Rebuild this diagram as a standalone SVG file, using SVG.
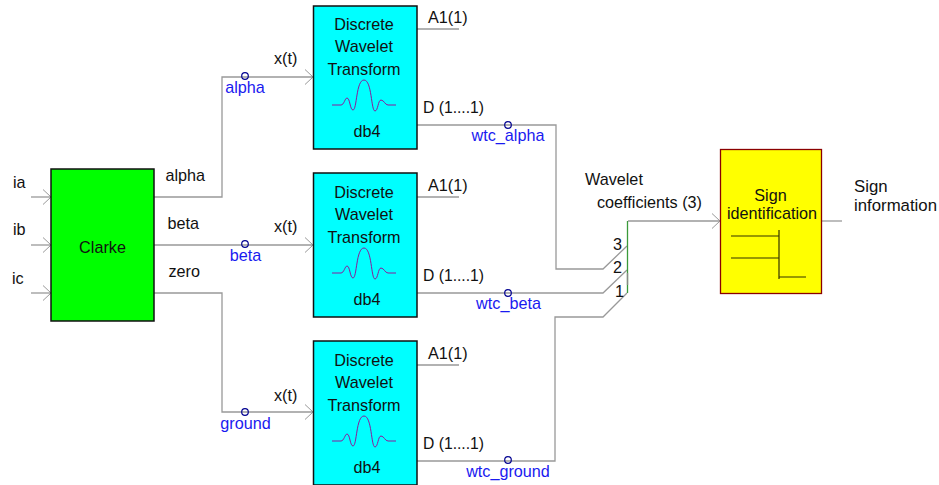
<svg xmlns="http://www.w3.org/2000/svg" width="939" height="485" viewBox="0 0 939 485">
<defs>
<marker id="arrow" markerUnits="userSpaceOnUse" markerWidth="10" markerHeight="16" refX="8.5" refY="8" orient="auto" viewBox="0 0 10 16"><path d="M0.5 0.5 L8.5 8 L0.5 15.5" fill="none" stroke="#999" stroke-width="1"/></marker>
<path id="wavelet" d="M332 105 H341 C344 105 345 98 347 98 C350 98 350 110 353 110 C357 110 356 80 364 80 C372 80 371 111 375 111 C378 111 378 100 381 100 C384 100 385 105 388 105 H396" fill="none" stroke="#8b1a9b" stroke-width="1"/>
</defs>
<style>
text{font-family:"Liberation Sans",Arial,sans-serif;font-size:16.200px;fill:#111}
.b{fill:#1a1af0}
.m{text-anchor:middle}
.d{font-size:15.700px}
.s{font-size:16.800px}
.c{fill:none;stroke:#999;stroke-width:1.300}
.box{stroke:#111;stroke-width:1.500}
.dot{fill:none;stroke:#000090;stroke-width:1.200}
.i{stroke:#333300;stroke-width:1.200;fill:none}
</style>
<rect width="939" height="485" fill="#fff"/>
<g id="connectors">
<path class="c" marker-end="url(#arrow)" d="M31 197 H51"/>
<path class="c" marker-end="url(#arrow)" d="M31 245 H51"/>
<path class="c" marker-end="url(#arrow)" d="M31 293 H51"/>
<path class="c" marker-end="url(#arrow)" d="M154 197 H222 V77 H313"/>
<path class="c" marker-end="url(#arrow)" d="M154 245 H313"/>
<path class="c" marker-end="url(#arrow)" d="M154 293 H222 V412 H313"/>
<path class="c" d="M417 29 H459"/>
<path class="c" d="M417 197 H459"/>
<path class="c" d="M417 365 H459"/>
<path class="c" d="M417 125 H556 V269 H603 L627 246"/>
<path class="c" d="M417 293 H603 L627 270"/>
<path class="c" d="M417 461 H555 V317 H603 L627 293"/>
<path fill="none" stroke="#3a9a3a" stroke-width="1.300" d="M627.500 221 V293"/>
<path fill="none" stroke="#888" stroke-width="1.300" d="M627.500 273 V285"/>
<path class="c" marker-end="url(#arrow)" d="M628 221 H720"/>
<path class="c" d="M821 221 H842"/>
<circle class="dot" cx="245" cy="76" r="3.300"/>
<circle class="dot" cx="245" cy="244" r="3.300"/>
<circle class="dot" cx="245" cy="412" r="3.300"/>
<circle class="dot" cx="508" cy="125" r="3.300"/>
<circle class="dot" cx="508" cy="293" r="3.300"/>
<circle class="dot" cx="508" cy="460" r="3.300"/>
</g>
<g id="clarke">
<rect class="box" x="51" y="169" width="103" height="152" fill="#00ff00"/>
<text class="m" x="102.500" y="253">Clarke</text>
</g>
<g id="dwt1">
<rect class="box" x="313.500" y="6" width="103.500" height="143" fill="#00ffff"/>
<text class="m" x="364" y="30">Discrete</text>
<text class="m" x="364" y="52">Wavelet</text>
<text class="m" x="364" y="75">Transform</text>
<use href="#wavelet"/>
<text class="m" x="367" y="137">db4</text>
</g>
<g id="dwt2">
<rect class="box" x="313.500" y="173" width="103.500" height="144" fill="#00ffff"/>
<text class="m" x="364" y="198">Discrete</text>
<text class="m" x="364" y="220">Wavelet</text>
<text class="m" x="364" y="243">Transform</text>
<use href="#wavelet" y="168"/>
<text class="m" x="367" y="305">db4</text>
</g>
<g id="dwt3">
<rect class="box" x="313.500" y="341" width="103.500" height="144" fill="#00ffff"/>
<text class="m" x="364" y="366">Discrete</text>
<text class="m" x="364" y="388">Wavelet</text>
<text class="m" x="364" y="411">Transform</text>
<use href="#wavelet" y="336"/>
<text class="m" x="367" y="473">db4</text>
</g>
<g id="sign">
<rect x="720.500" y="149.500" width="101" height="144" fill="#ffff00" stroke="#8b0000" stroke-width="1.300"/>
<text class="m" x="770.500" y="201">Sign</text>
<text class="m" x="772" y="219">identification</text>
<path class="i" d="M731 236 H779 M731 258 H779 M779 230 V279 M779 277 H806"/>
</g>
<g id="labels">
<text x="13" y="188">ia</text>
<text x="13" y="235">ib</text>
<text x="12" y="284">ic</text>
<text x="165.500" y="181">alpha</text>
<text x="167.500" y="229">beta</text>
<text x="168.500" y="277">zero</text>
<text x="274" y="64">x(t)</text>
<text x="274" y="232">x(t)</text>
<text x="274" y="401">x(t)</text>
<text class="b m" x="245" y="93">alpha</text>
<text class="b m" x="245.500" y="261">beta</text>
<text class="b m" x="245.500" y="429">ground</text>
<text x="428" y="23">A1(1)</text>
<text x="428" y="191">A1(1)</text>
<text x="428" y="359">A1(1)</text>
<text class="d" x="423" y="113">D (1....1)</text>
<text class="d" x="423" y="281">D (1....1)</text>
<text class="d" x="423" y="449">D (1....1)</text>
<text class="b m" x="508" y="141">wtc_alpha</text>
<text class="b m" x="508.500" y="309">wtc_beta</text>
<text class="b m" x="508" y="477">wtc_ground</text>
<text x="585" y="185">Wavelet</text>
<text x="597" y="208">coefficients (3)</text>
<text x="613" y="250">3</text>
<text x="613" y="273">2</text>
<text x="615" y="297">1</text>
<text class="s" x="854" y="192">Sign</text>
<text class="s" x="854" y="211">information</text>
</g>
</svg>
